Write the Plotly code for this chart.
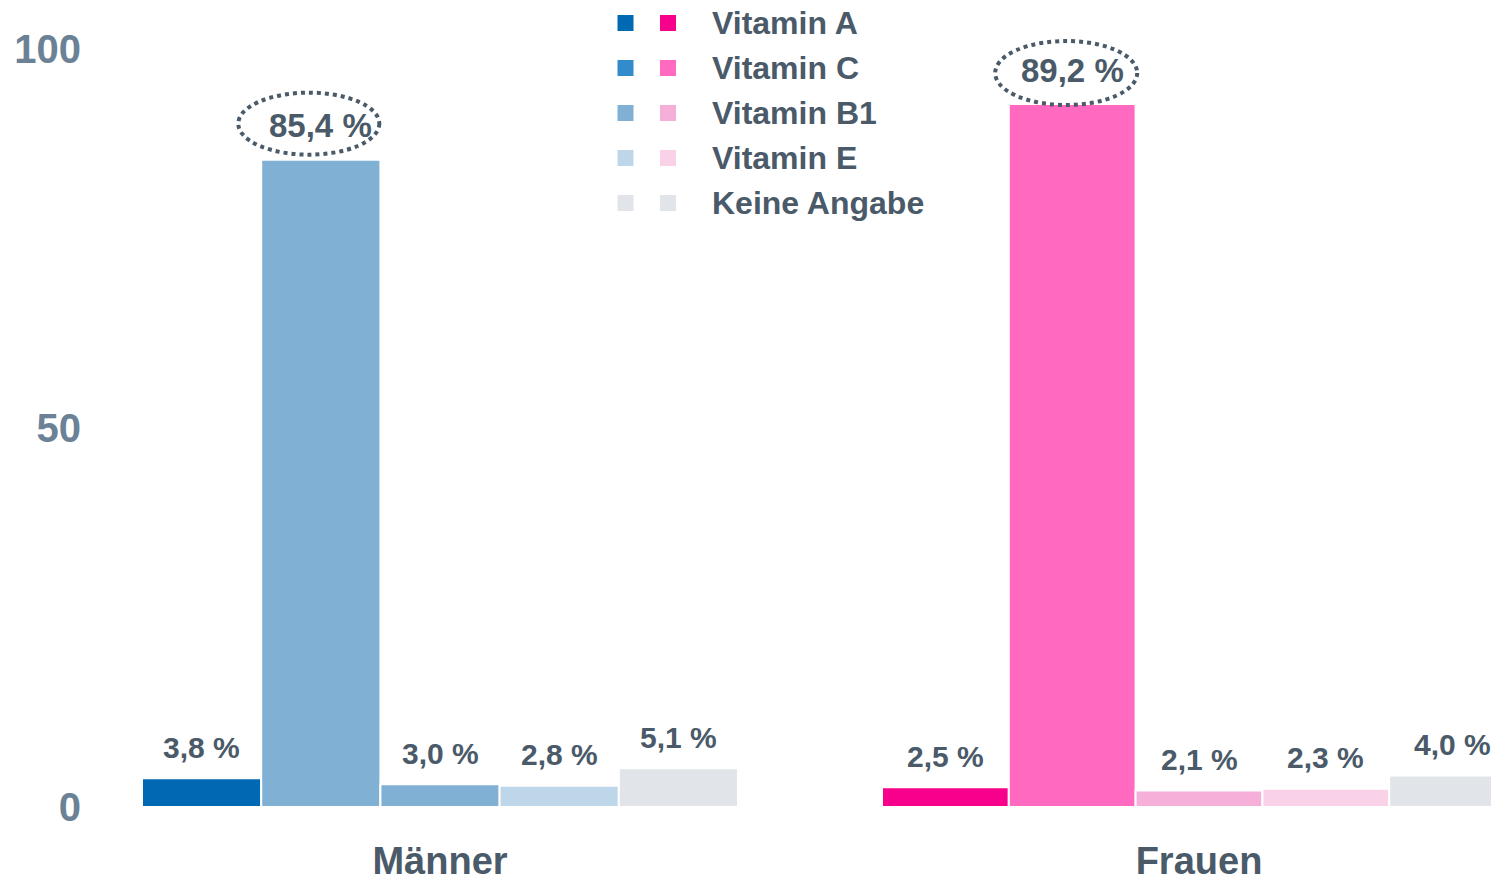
import plotly.graph_objects as go

# ---------------- data ----------------
groups = ["Männer", "Frauen"]
vitamins = ["Vitamin A", "Vitamin C", "Vitamin B1", "Vitamin E", "Keine Angabe"]
maenner_values = [3.8, 85.4, 3.0, 2.8, 5.1]
frauen_values = [2.5, 89.2, 2.1, 2.3, 4.0]
maenner_labels = ["3,8 %", "85,4 %", "3,0 %", "2,8 %", "5,1 %"]
frauen_labels = ["2,5 %", "89,2 %", "2,1 %", "2,3 %", "4,0 %"]
maenner_bar_colors = ["#0069b4", "#80b1d4", "#80b1d4", "#bed6ea", "#e1e4e9"]
frauen_bar_colors = ["#f7008c", "#ff69c0", "#f5afd8", "#fad2e8", "#e1e4e9"]
legend_blue = ["#0069b4", "#328bcb", "#80b1d4", "#bed6ea", "#e1e4e9"]
legend_pink = ["#f7008c", "#ff69c0", "#f5afd8", "#fad2e8", "#e1e4e9"]
highlight_index = 1
y_tickvals = [0, 50, 100]
y_ticktext = ["0", "50", "100"]

# ---------------- style / geometry ----------------
OFF = 8  # default page margin of the html body
SCREEN_W, SCREEN_H = 1499, 882
W, H = SCREEN_W - OFF, SCREEN_H - OFF
L, R, T = 88, 0, 0
plot_bottom_screen = 807
B = H - (plot_bottom_screen - OFF)
plot_w = W - L - R
plot_h = H - T - B
px_per_cat = 759.0
first_center_px = 440.0 - OFF
bar_w = [119.2 / px_per_cat, 126.8 / px_per_cat]
y_ranges = [[0, plot_h / 7.58], [0, plot_h * 89.2 / 703.0]]
FONT = "Liberation Sans, Arial, Helvetica, sans-serif"
TEXT = "#4a5a69"
TICK = "#6b8296"

x_range = [(L - first_center_px) / px_per_cat, (W - R - first_center_px) / px_per_cat]


def px_x(p):  # screen pixel -> paper fraction
    return (p - OFF - L) / plot_w


def px_y(p):
    return 1 - (p - OFF - T) / plot_h


fig = go.Figure()
annotations = []
shapes = []

group_data = [
    (maenner_values, maenner_labels, maenner_bar_colors, "y"),
    (frauen_values, frauen_labels, frauen_bar_colors, "y2"),
]
ellipse_style = [dict(dx=-12, dy=36, rx=70.5, ry=31), dict(dx=-6, dy=31, rx=71, ry=32)]

for g, (vals, labs, cols, yax) in enumerate(group_data):
    w = bar_w[g]
    n = len(vals)
    for i, v in enumerate(vals):
        off = -n * w / 2 + i * w
        fig.add_trace(go.Bar(
            x=[groups[g]], y=[v], width=[w], offset=[off],
            marker=dict(color=cols[i], line=dict(color="white", width=2)),
            yaxis=yax, showlegend=False, name=vitamins[i],
            hovertemplate=f"{groups[g]} – {vitamins[i]}: {labs[i]}<extra></extra>",
        ))
        cx = g + off + w / 2
        big = i == highlight_index
        annotations.append(dict(
            x=cx, y=v, xref="x", yref=yax, text=f"<b>{labs[i]}</b>",
            showarrow=False, xanchor="center", yanchor="middle",
            yshift=34 if big else 31,
            font=dict(family=FONT, size=33 if big else 30, color=TEXT),
        ))
        if big:
            es = ellipse_style[g]
            shapes.append(dict(
                type="circle", xref="x", yref=yax,
                xsizemode="pixel", ysizemode="pixel",
                xanchor=cx, yanchor=v,
                x0=es["dx"] - es["rx"], x1=es["dx"] + es["rx"],
                y0=es["dy"] - es["ry"], y1=es["dy"] + es["ry"],
                line=dict(color=TEXT, width=4, dash="dot"),
                fillcolor="rgba(0,0,0,0)",
            ))

# ---------------- manual legend (two swatches per entry) ----------------
leg_blue_x, leg_pink_x, leg_text_x = 625.5, 668.0, 710.0
leg_y0, leg_dy, sq = 23.0, 45.0, 16.0
for i, name in enumerate(vitamins):
    cy = leg_y0 + i * leg_dy
    for cxp, col in ((leg_blue_x, legend_blue[i]), (leg_pink_x, legend_pink[i])):
        shapes.append(dict(
            type="rect", xref="paper", yref="paper",
            x0=px_x(cxp - sq / 2), x1=px_x(cxp + sq / 2),
            y0=px_y(cy + sq / 2), y1=px_y(cy - sq / 2),
            fillcolor=col, line=dict(width=0),
        ))
    annotations.append(dict(
        x=px_x(leg_text_x), y=px_y(cy), xref="paper", yref="paper",
        text=f"<b>{name}</b>", showarrow=False, xanchor="left", yanchor="middle",
        font=dict(family=FONT, size=32, color=TEXT),
    ))

fig.update_layout(
    width=W, height=H,
    margin=dict(l=L, r=R, t=T, b=B, autoexpand=False),
    paper_bgcolor="white", plot_bgcolor="white",
    barmode="overlay",
    showlegend=False,
    xaxis=dict(
        type="category", categoryorder="array", categoryarray=groups,
        range=x_range, showgrid=False, zeroline=False, showline=False,
        ticks="", ticklabelstandoff=28,
        tickfont=dict(family=FONT, size=38, color=TEXT, weight="bold"),
    ),
    yaxis=dict(
        range=y_ranges[0], tickvals=y_tickvals, ticktext=y_ticktext,
        showgrid=False, zeroline=False, showline=False, ticks="",
        ticklabelstandoff=14,
        tickfont=dict(family=FONT, size=40, color=TICK, weight="bold"),
    ),
    yaxis2=dict(
        range=y_ranges[1], overlaying="y", visible=False,
    ),
    annotations=annotations,
    shapes=shapes,
)

fig.write_html("out.html")
